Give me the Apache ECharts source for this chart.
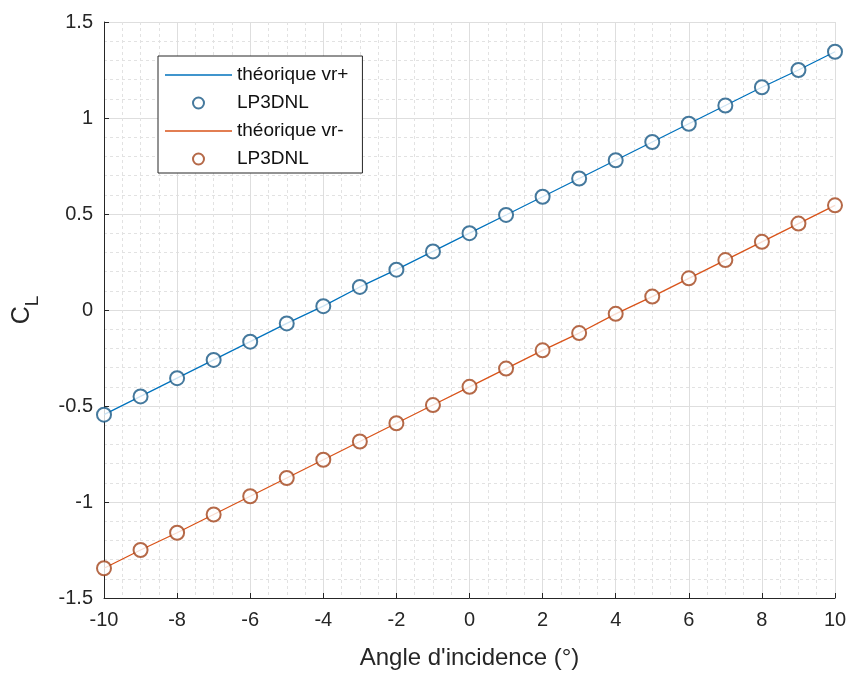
<!DOCTYPE html>
<html><head><meta charset="utf-8">
<script src="https://cdn.jsdelivr.net/npm/echarts@6/dist/echarts.min.js"></script>
<style>html,body{margin:0;padding:0;background:#fff}#c{width:853px;height:673px}</style>
</head><body><div id="c"></div>
<script>
const angles = [-10,-9,-8,-7,-6,-5,-4,-3,-2,-1,0,1,2,3,4,5,6,7,8,9,10];
const theoPlus = [-0.545,-0.45,-0.355,-0.26,-0.165,-0.07,0.02,0.12,0.21,0.305,0.40,0.495,0.59,0.685,0.78,0.875,0.97,1.065,1.16,1.25,1.345];
const lpPlus   = [-0.545,-0.45,-0.355,-0.26,-0.165,-0.07,0.02,0.12,0.21,0.305,0.40,0.495,0.59,0.685,0.78,0.875,0.97,1.065,1.16,1.25,1.345];
const theoMinus = [-1.345,-1.25,-1.16,-1.065,-0.97,-0.875,-0.78,-0.685,-0.59,-0.495,-0.40,-0.305,-0.21,-0.12,-0.02,0.07,0.165,0.26,0.355,0.45,0.545];
const lpMinus   = [-1.345,-1.25,-1.16,-1.065,-0.97,-0.875,-0.78,-0.685,-0.59,-0.495,-0.40,-0.305,-0.21,-0.12,-0.02,0.07,0.165,0.26,0.355,0.45,0.545];
const legendNames = ['théorique vr+','LP3DNL','théorique vr-','LP3DNL '];

const pair = (xs, ys) => xs.map((x,i)=>[x, ys[i]]);
const font = 'Liberation Sans, Arial, Helvetica, sans-serif';
const linePath = 'path://M0,0 L1,0 L1,0.02 L0,0.02 Z';
const chart = echarts.init(document.getElementById('c'));
chart.setOption({
  animation:false,
  backgroundColor:'#fff',
  grid:{left:104,right:18,top:22,bottom:75,containLabel:false,outerBoundsMode:'none'},
  legend:{
    orient:'vertical', left:158, top:56,
    data:[
      {name:legendNames[0], icon:linePath},
      {name:legendNames[1], icon:'emptyCircle', itemStyle:{borderWidth:2.2, borderColor:'#175784'}},
      {name:legendNames[2], icon:linePath},
      {name:legendNames[3], icon:'emptyCircle', itemStyle:{borderWidth:2.2, borderColor:'#a3431a'}}
    ],
    backgroundColor:'#fff', borderColor:'#262626', borderWidth:1,
    padding:[9,14,4,7], itemGap:8, itemWidth:67, itemHeight:11,
    textStyle:{fontFamily:font, fontSize:19, lineHeight:20, color:'#111'},
    selectedMode:false
  },
  xAxis:{
    type:'value', min:-10, max:10, interval:2,
    name:"Angle d'incidence (°)", nameLocation:'middle', nameGap:48,
    nameTextStyle:{fontFamily:font, fontSize:24, color:'#262626'},
    axisLine:{show:true, onZero:false, lineStyle:{color:'#262626', width:1}},
    axisTick:{show:true, inside:true, length:5, lineStyle:{color:'#262626'}},
    axisLabel:{fontFamily:font, fontSize:20, color:'#262626', margin:12},
    splitLine:{show:true, lineStyle:{color:'#dedede', width:1}},
    minorTick:{show:false, splitNumber:4},
    minorSplitLine:{show:true, lineStyle:{color:'#e2e2e2', width:1, type:[3,3]}}
  },
  yAxis:{
    type:'value', min:-1.5, max:1.5, interval:0.5,
    name:'{c|C}{l|L}', nameLocation:'middle', nameGap:62, nameRotate:90,
    nameTextStyle:{rich:{
      c:{fontFamily:font, fontSize:25, color:'#262626'},
      l:{fontFamily:font, fontSize:19, color:'#262626', padding:[20,0,0,0]}
    }},
    axisLine:{show:true, onZero:false, lineStyle:{color:'#262626', width:1}},
    axisTick:{show:true, inside:true, length:5, lineStyle:{color:'#262626'}},
    axisLabel:{fontFamily:font, fontSize:20, color:'#262626', margin:11},
    splitLine:{show:true, lineStyle:{color:'#dedede', width:1}},
    minorTick:{show:false, splitNumber:5},
    minorSplitLine:{show:true, lineStyle:{color:'#e2e2e2', width:1, type:[3,3]}}
  },
  series:[
    {name:legendNames[0], type:'line', data:pair(angles, theoPlus), symbol:'none',
     itemStyle:{color:'#0072BD'}, lineStyle:{color:'#0072BD', width:1.3}, z:2},
    {name:legendNames[1], type:'scatter', data:pair(angles, lpPlus), symbol:'emptyCircle', symbolSize:14,
     itemStyle:{color:'#175784', borderWidth:2.6}, z:3},
    {name:legendNames[2], type:'line', data:pair(angles, theoMinus), symbol:'none',
     itemStyle:{color:'#D95319'}, lineStyle:{color:'#D95319', width:1.3}, z:2},
    {name:legendNames[3], type:'scatter', data:pair(angles, lpMinus), symbol:'emptyCircle', symbolSize:14,
     itemStyle:{color:'#a3431a', borderWidth:2.6}, z:3}
  ]
});
</script></body></html>
